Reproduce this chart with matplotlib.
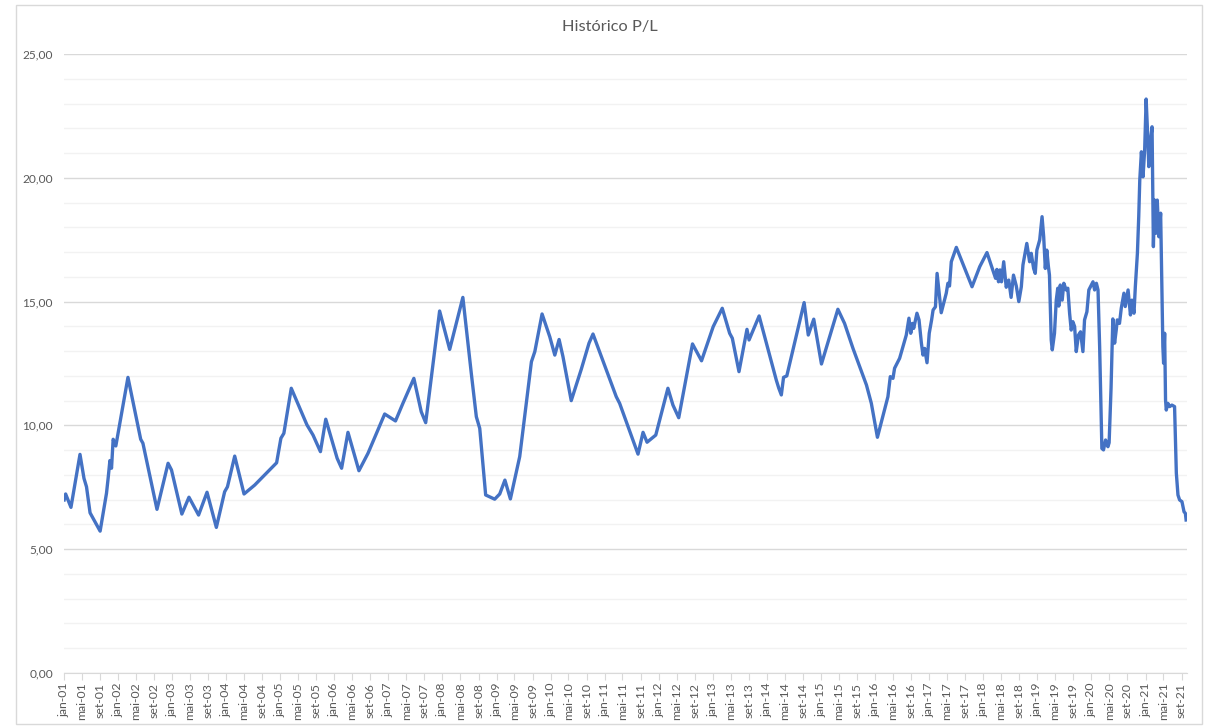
import numpy as np
import matplotlib
matplotlib.use("Agg")
import matplotlib.pyplot as plt
import matplotlib.dates as mdates
from matplotlib.patches import Rectangle
from matplotlib.ticker import FuncFormatter, MultipleLocator

plt.rcParams['font.family'] = ['Lato', 'DejaVu Sans']

# datas e P/L
datas = [
    "2001-01-02", "2001-01-12", "2001-02-17", "2001-04-19", "2001-05-16", "2001-06-02",
    "2001-06-26", "2001-09-02", "2001-10-15", "2001-10-26", "2001-11-07", "2001-11-18",
    "2001-11-29", "2001-12-17", "2002-03-09", "2002-06-03", "2002-06-18", "2002-09-21",
    "2002-12-05", "2002-12-28", "2003-03-08", "2003-04-25", "2003-06-29", "2003-08-25",
    "2003-10-27", "2003-12-22", "2004-01-10", "2004-02-28", "2004-05-01", "2004-07-12",
    "2004-12-07", "2005-01-05", "2005-01-25", "2005-03-16", "2005-06-30", "2005-08-10",
    "2005-09-29", "2005-11-04", "2006-01-20", "2006-02-19", "2006-04-03", "2006-06-16",
    "2006-08-16", "2006-12-07", "2007-02-18", "2007-04-09", "2007-06-22", "2007-08-11",
    "2007-09-10", "2007-12-13", "2008-02-19", "2008-05-18", "2008-07-14", "2008-08-17",
    "2008-09-09", "2008-10-19", "2008-12-19", "2009-01-22", "2009-02-26", "2009-04-04",
    "2009-06-06", "2009-08-24", "2009-09-16", "2009-11-04", "2009-12-26", "2010-01-29",
    "2010-02-27", "2010-03-25", "2010-05-20", "2010-07-27", "2010-09-17", "2010-10-14",
    "2011-03-20", "2011-04-12", "2011-08-14", "2011-09-17", "2011-10-14", "2011-12-12",
    "2012-03-03", "2012-04-06", "2012-05-15", "2012-08-16", "2012-10-16", "2013-01-03",
    "2013-03-05", "2013-04-24", "2013-05-12", "2013-06-26", "2013-08-19", "2013-09-02",
    "2013-11-09", "2014-03-05", "2014-03-22", "2014-04-08", "2014-04-23", "2014-05-15",
    "2014-09-09", "2014-10-07", "2014-11-13", "2015-01-04", "2015-04-25", "2015-06-09",
    "2015-08-05", "2015-11-04", "2015-12-07", "2016-01-17", "2016-03-28", "2016-04-13",
    "2016-05-01", "2016-05-12", "2016-06-15", "2016-07-30", "2016-08-17", "2016-08-29",
    "2016-09-10", "2016-09-18", "2016-10-10", "2016-10-24", "2016-11-09", "2016-11-20",
    "2016-12-01", "2016-12-17", "2017-01-01", "2017-01-17", "2017-01-27", "2017-02-12",
    "2017-02-23", "2017-03-23", "2017-04-26", "2017-05-07", "2017-05-18", "2017-05-30",
    "2017-07-03", "2017-10-17", "2017-12-08", "2018-01-26", "2018-03-25", "2018-04-03",
    "2018-04-14", "2018-04-24", "2018-05-04", "2018-05-19", "2018-06-05", "2018-06-22",
    "2018-07-08", "2018-07-24", "2018-08-12", "2018-08-29", "2018-09-15", "2018-09-26",
    "2018-10-22", "2018-11-10", "2018-11-21", "2018-12-07", "2018-12-18", "2018-12-29",
    "2019-01-17", "2019-02-02", "2019-02-13", "2019-02-24", "2019-03-06", "2019-03-17",
    "2019-03-24", "2019-04-05", "2019-04-12", "2019-04-27", "2019-05-09", "2019-05-19",
    "2019-05-26", "2019-06-05", "2019-06-18", "2019-06-29", "2019-07-15", "2019-07-26",
    "2019-08-07", "2019-08-18", "2019-08-29", "2019-09-10", "2019-09-21", "2019-10-06",
    "2019-10-20", "2019-11-05", "2019-11-16", "2019-12-02", "2019-12-15", "2020-01-12",
    "2020-01-23", "2020-02-04", "2020-02-15", "2020-02-26", "2020-03-12", "2020-03-23",
    "2020-04-06", "2020-04-22", "2020-04-30", "2020-05-13", "2020-05-25", "2020-06-06",
    "2020-06-17", "2020-06-24", "2020-07-09", "2020-07-21", "2020-08-08", "2020-08-17",
    "2020-09-05", "2020-09-21", "2020-10-01", "2020-10-15", "2020-10-24", "2020-11-07",
    "2020-11-16", "2020-11-23", "2020-12-04", "2020-12-15", "2020-12-26", "2021-01-05",
    "2021-01-14", "2021-01-23", "2021-02-04", "2021-02-14", "2021-02-23", "2021-03-03",
    "2021-03-12", "2021-03-21", "2021-04-01", "2021-04-13", "2021-04-28", "2021-05-03",
    "2021-05-10", "2021-05-16", "2021-05-21", "2021-06-01", "2021-06-13", "2021-06-28",
    "2021-07-16", "2021-07-28", "2021-08-08", "2021-08-19", "2021-09-04", "2021-09-18",
    "2021-09-27", "2021-10-02",
]
pl = [
    6.99, 7.23, 6.69, 8.83, 7.86, 7.52,
    6.47, 5.73, 7.26, 7.86, 8.58, 8.27,
    9.44, 9.17, 11.94, 9.44, 9.28, 6.61,
    8.47, 8.20, 6.42, 7.10, 6.38, 7.30,
    5.88, 7.32, 7.52, 8.76, 7.23, 7.59,
    8.49, 9.48, 9.68, 11.50, 10.02, 9.61,
    8.94, 10.25, 8.67, 8.27, 9.72, 8.17,
    8.87, 10.46, 10.18, 10.89, 11.90, 10.55,
    10.11, 14.62, 13.07, 15.17, 12.10, 10.35,
    9.88, 7.19, 7.02, 7.23, 7.79, 7.03,
    8.74, 12.57, 12.98, 14.50, 13.58, 12.84,
    13.47, 12.78, 11.00, 12.27, 13.32, 13.69,
    11.16, 10.89, 8.84, 9.72, 9.32, 9.61,
    11.50, 10.82, 10.31, 13.29, 12.61, 13.99,
    14.73, 13.72, 13.52, 12.17, 13.88, 13.45,
    14.42, 11.83, 11.50, 11.23, 11.94, 12.00,
    14.96, 13.65, 14.29, 12.48, 14.69, 14.12,
    13.11, 11.63, 10.89, 9.52, 11.16, 11.97,
    11.90, 12.31, 12.71, 13.65, 14.33, 13.72,
    14.12, 13.92, 14.53, 14.26, 13.32, 12.84,
    13.11, 12.53, 13.72, 14.26, 14.66, 14.79,
    16.14, 14.55, 15.34, 15.74, 15.63, 16.61,
    17.19, 15.60, 16.41, 16.98, 15.94, 16.30,
    15.80, 16.28, 15.80, 16.61, 15.58, 15.87,
    15.17, 16.07, 15.63, 15.00, 15.60, 16.48,
    17.35, 16.61, 16.95, 16.34, 16.14, 17.08,
    17.49, 18.43, 17.62, 16.34, 17.08, 16.41,
    16.07, 13.45, 13.05, 13.72, 15.06, 15.54,
    14.82, 15.67, 15.06, 15.74, 15.47, 15.54,
    14.53, 13.85, 14.19, 13.99, 12.98, 13.65,
    13.78, 12.98, 14.26, 14.59, 15.47, 15.80,
    15.47, 15.74, 15.47, 13.18, 9.07, 9.01,
    9.41, 9.14, 9.30, 11.50, 14.30, 13.32,
    13.85, 14.26, 14.12, 14.73, 15.34, 14.80,
    15.47, 14.46, 15.06, 14.53, 15.60, 16.95,
    18.43, 19.91, 21.05, 20.04, 21.12, 23.18,
    21.93, 20.45, 21.53, 22.06, 17.22, 19.10,
    17.76, 19.10, 17.62, 18.57, 13.18, 12.51,
    13.72, 11.03, 10.62, 10.89, 10.76, 10.82,
    10.76, 8.07, 7.19, 6.99, 6.92, 6.51,
    6.45, 6.18,
]
meses = {1: "jan", 5: "mai", 9: "set"}

x = mdates.datestr2num(datas)

fig = plt.figure(figsize=(12.06, 7.28), dpi=100)
fig.patches.append(Rectangle((16 / 1206, 1 - 724 / 728), 1186 / 1206, 719 / 728,
                             transform=fig.transFigure, fill=False,
                             edgecolor="#d9d9d9", linewidth=1))
ax = fig.add_axes([64 / 1206, 1 - 673 / 728, (1187 - 64) / 1206, (673 - 54) / 728])

ax.plot(x, pl, color="#4472C4", linewidth=2.4, solid_joinstyle="round")

ax.set_ylim(0, 25)
ax.set_xlim(mdates.datestr2num("2001-01-01"), mdates.datestr2num("2021-10-08"))
ax.yaxis.set_major_locator(MultipleLocator(5))
ax.yaxis.set_minor_locator(MultipleLocator(1))
ax.yaxis.set_major_formatter(FuncFormatter(lambda v, p: f"{v:.2f}".replace(".", ",")))
ax.grid(axis="y", which="major", color="#d9d9d9", linewidth=1)
ax.grid(axis="y", which="minor", color="#f2f2f2", linewidth=1)
ax.set_axisbelow(True)

ax.xaxis.set_major_locator(mdates.MonthLocator(bymonth=[1, 5, 9]))
ax.xaxis.set_major_formatter(FuncFormatter(
    lambda v, p: f"{meses[mdates.num2date(v).month]}-{mdates.num2date(v).year % 100:02d}"))

for s in ["top", "right", "left"]:
    ax.spines[s].set_visible(False)
ax.spines["bottom"].set_color("#d9d9d9")
ax.tick_params(axis="y", which="both", length=0, pad=8, labelsize=8.6, labelcolor="#595959")
ax.tick_params(axis="x", length=5, color="#d9d9d9", pad=2, labelsize=8.8,
               labelcolor="#595959", labelrotation=90)

fig.text(609.5 / 1206, 1 - 27 / 728, "Histórico P/L", ha="center", va="center",
         fontsize=11.8, color="#595959")

fig.savefig("out.png", dpi=100)
